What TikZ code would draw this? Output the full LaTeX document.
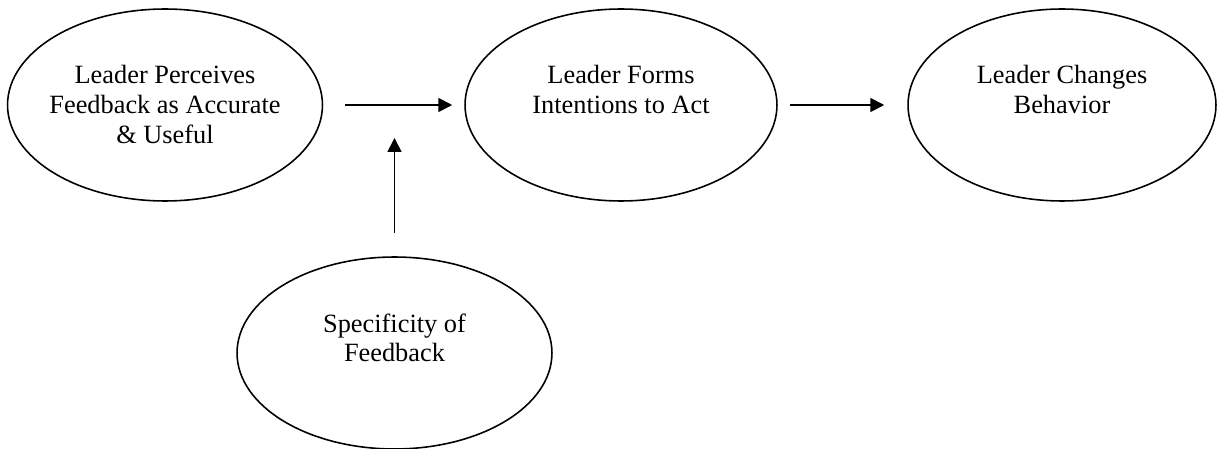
\documentclass[tikz,border=0pt]{standalone}
\usepackage{fontspec}
\setmainfont{Liberation Serif}
\usetikzlibrary{shapes.geometric,arrows.meta}

\begin{document}
\begin{tikzpicture}[x=0.02cm, y=-0.02cm,
    oval/.style={ellipse, draw, line width=0.9pt, minimum height=3.84cm, inner sep=0pt},
    caption/.style={anchor=north, align=center, inner sep=0pt, font=\fontsize{15}{17}\selectfont},
    flow/.style={-{Triangle[length=0.28cm,width=0.28cm]}, line width=1pt}]
    \useasboundingbox (0,0) rectangle (1217,449);

    % Main chain
    \node[oval, minimum width=6.3cm] (perceive) at (165,105) {};
    \node[oval, minimum width=6.24cm] (intend) at (621,105) {};
    \node[oval, minimum width=6.16cm] (change) at (1062,105) {};

    % Moderator
    \node[oval, minimum width=6.3cm] (specific) at (394.5,353) {};

    % Texts
    \node[caption] (perceive-text) at ([yshift=-1.14cm]perceive.north) {Leader Perceives\\Feedback as Accurate\\\& Useful};
    \node[caption] (intend-text) at ([yshift=-1.14cm]intend.north) {Leader Forms\\Intentions to Act};
    \node[caption] (change-text) at ([yshift=-1.14cm]change.north) {Leader Changes\\Behavior};
    \node[caption] (specific-text) at ([yshift=-1.14cm]specific.north) {Specificity of\\Feedback};

    % Arrows
    \coordinate (join) at (394.5,138);
    \draw[flow, shorten <=0.44cm, shorten >=0.24cm] (perceive) -- (intend);
    \draw[flow, shorten <=0.24cm, shorten >=0.46cm] (intend) -- (change);
    \draw[flow, shorten <=0.46cm] (specific) -- (join);
\end{tikzpicture}
\end{document}
